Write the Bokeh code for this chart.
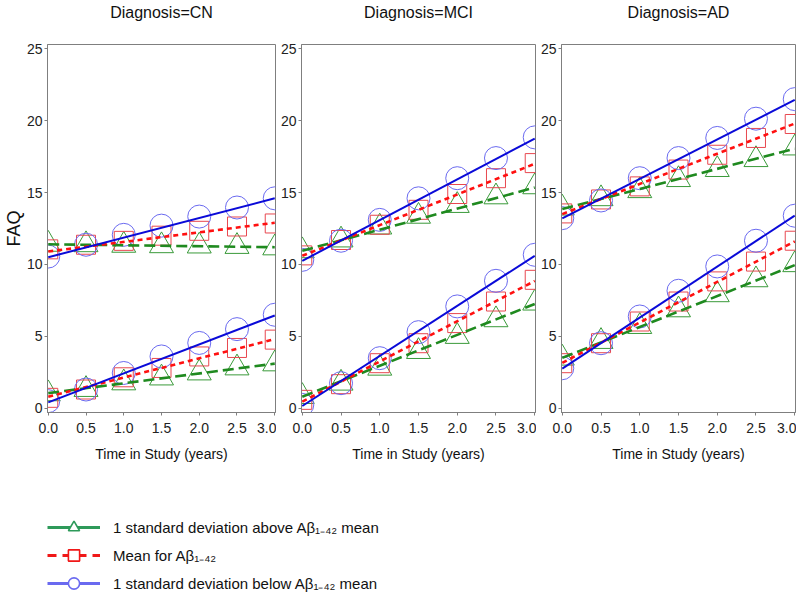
from bokeh.plotting import figure
from bokeh.layouts import column, row
from bokeh.models import (Range1d, FixedTicker, NumeralTickFormatter, Legend, LegendItem,
                          LinearAxis)
from bokeh.embed import file_html
from bokeh.resources import INLINE

# ---------------- data ----------------
times = [0.0, 0.5, 1.0, 1.5, 2.0, 2.5, 3.0]
fit_t = [0.0, 3.0]
x_ticks = [0.0, 0.5, 1.0, 1.5, 2.0, 2.5, 3.0]
y_ticks = [0, 5, 10, 15, 20, 25]
diagnoses = ["CN", "MCI", "AD"]
y_title = "FAQ"
x_title = "Time in Study (years)"
series_labels = [
    "1 standard deviation above A\u03b2\u2081\u208b\u2084\u2082 mean",
    "Mean for A\u03b2\u2081\u208b\u2084\u2082",
    "1 standard deviation below A\u03b2\u2081\u208b\u2084\u2082 mean",
]

# CN
cn_hi_above = [11.4, 11.37, 11.33, 11.3, 11.28, 11.25, 11.15]
cn_hi_mean = [11.05, 11.37, 11.64, 12.0, 12.34, 12.64, 12.85]
cn_hi_below = [10.55, 11.37, 12.06, 12.7, 13.33, 13.96, 14.6]
cn_lo_above = [1.0, 1.3, 1.76, 2.1, 2.45, 2.8, 3.08]
cn_lo_mean = [0.72, 1.3, 2.15, 2.8, 3.6, 4.19, 4.77]
cn_lo_below = [0.49, 1.3, 2.45, 3.6, 4.54, 5.5, 6.5]
cn_hi_fit_above = [11.4, 11.2]
cn_hi_fit_mean = [10.9, 12.9]
cn_hi_fit_below = [10.5, 14.6]
cn_lo_fit_above = [1.05, 3.1]
cn_lo_fit_mean = [0.8, 4.8]
cn_lo_fit_below = [0.4, 6.45]

# MCI
mci_hi_above = [10.95, 11.7, 12.6, 13.35, 14.1, 14.7, 15.4]
mci_hi_mean = [10.63, 11.7, 12.76, 13.8, 14.9, 16.0, 17.05]
mci_hi_below = [10.32, 11.65, 13.1, 14.6, 16.0, 17.4, 18.84]
mci_lo_above = [0.81, 1.74, 2.78, 3.94, 4.99, 6.15, 7.31]
mci_lo_mean = [0.58, 1.67, 3.13, 4.52, 5.92, 7.42, 8.93]
mci_lo_below = [0.23, 1.74, 3.48, 5.29, 7.08, 8.86, 10.67]
mci_hi_fit_above = [10.95, 15.35]
mci_hi_fit_mean = [10.6, 17.0]
mci_hi_fit_below = [10.25, 18.75]
mci_lo_fit_above = [0.8, 7.25]
mci_lo_fit_mean = [0.45, 8.85]
mci_lo_fit_below = [0.15, 10.6]

# AD
ad_hi_above = [13.92, 14.57, 15.13, 15.9, 16.6, 17.29, 18.1]
ad_hi_mean = [13.55, 14.52, 15.43, 16.6, 17.63, 18.8, 19.77]
ad_hi_below = [13.22, 14.45, 16.0, 17.4, 18.8, 20.14, 21.5]
ad_lo_above = [3.48, 4.64, 5.68, 6.84, 7.89, 8.93, 9.98]
ad_lo_mean = [3.13, 4.52, 6.03, 7.42, 8.82, 10.2, 11.65]
ad_lo_below = [2.78, 4.52, 6.38, 8.17, 9.86, 11.65, 13.39]
ad_hi_fit_above = [13.85, 18.05]
ad_hi_fit_mean = [13.5, 19.8]
ad_hi_fit_below = [13.2, 21.45]
ad_lo_fit_above = [3.5, 9.95]
ad_lo_fit_mean = [3.15, 11.6]
ad_lo_fit_below = [2.75, 13.4]

panel_data = {
    "CN": {
        "pts": [(cn_hi_above, cn_hi_mean, cn_hi_below), (cn_lo_above, cn_lo_mean, cn_lo_below)],
        "fit": [(cn_hi_fit_above, cn_hi_fit_mean, cn_hi_fit_below), (cn_lo_fit_above, cn_lo_fit_mean, cn_lo_fit_below)],
    },
    "MCI": {
        "pts": [(mci_hi_above, mci_hi_mean, mci_hi_below), (mci_lo_above, mci_lo_mean, mci_lo_below)],
        "fit": [(mci_hi_fit_above, mci_hi_fit_mean, mci_hi_fit_below), (mci_lo_fit_above, mci_lo_fit_mean, mci_lo_fit_below)],
    },
    "AD": {
        "pts": [(ad_hi_above, ad_hi_mean, ad_hi_below), (ad_lo_above, ad_lo_mean, ad_lo_below)],
        "fit": [(ad_hi_fit_above, ad_hi_fit_mean, ad_hi_fit_below), (ad_lo_fit_above, ad_lo_fit_mean, ad_lo_fit_below)],
    },
}

# ---------------- styles ----------------
FONT = "Liberation Sans"
marker_types = ["triangle", "square", "circle"]
marker_sizes = [24, 19, 23]
marker_colors = ["#3a9a3a", "#e8474f", "#6a6af0"]
line_colors = ["#1f8a1f", "#ff1010", "#0a0ad8"]
line_dashes = ["11 5", "5 4", "solid"]
line_widths = [2.6, 2.6, 2.0]

FRAME_W = 234
FRAME_H = 369
TOP = 43
BOTTOM = 58


def make_panel(diag, first):
    left = 41 if first else 25
    p = figure(
        width=left + FRAME_W + 1,
        height=TOP + FRAME_H + BOTTOM,
        x_range=Range1d(-0.01, 3.01),
        y_range=Range1d(-0.3, 25.3),
        output_backend="svg",
        toolbar_location=None,
        min_border_left=left,
        min_border_right=1,
        min_border_top=TOP,
        min_border_bottom=BOTTOM,
    )
    p.xgrid.visible = False
    p.ygrid.visible = False
    p.outline_line_color = "#7f7f7f"
    p.outline_line_width = 1
    p.background_fill_color = "white"
    p.border_fill_color = "white"

    # bottom (time) axis
    bx = p.below[0]
    bx.ticker = FixedTicker(ticks=x_ticks)
    bx.formatter = NumeralTickFormatter(format="0.0")
    ly = p.left[0]
    ly.ticker = FixedTicker(ticks=y_ticks)
    for ax in (bx, ly):
        ax.axis_line_color = "#7f7f7f"
        ax.major_tick_line_color = "#7f7f7f"
        ax.major_tick_in = 0
        ax.major_tick_out = 3
        ax.minor_tick_line_color = None
        ax.major_label_text_font = FONT
        ax.major_label_text_font_size = "14px"
        ax.major_label_text_color = "#222222"
    bx.major_label_standoff = 7
    ly.major_label_standoff = 2
    bx.axis_label = x_title
    bx.axis_label_text_font = FONT
    bx.axis_label_text_font_size = "14px"
    bx.axis_label_text_font_style = "normal"
    bx.axis_label_text_color = "#111111"
    bx.axis_label_standoff = 10
    if first:
        ly.axis_label = y_title
        ly.axis_label_text_font = FONT
        ly.axis_label_text_font_size = "18px"
        ly.axis_label_text_font_style = "normal"
        ly.axis_label_text_color = "#111111"
        ly.axis_label_standoff = 0

    # panel heading drawn as the label of a tick-less axis above the frame
    head = LinearAxis(ticker=FixedTicker(ticks=[]), axis_label="Diagnosis=" + diag,
                      axis_line_color=None, major_tick_line_color=None,
                      minor_tick_line_color=None, major_tick_out=0, minor_tick_out=0,
                      major_label_standoff=0,
                      axis_label_standoff=24, axis_label_text_font=FONT,
                      axis_label_text_font_size="16px", axis_label_text_font_style="normal",
                      axis_label_text_color="#111111")
    p.add_layout(head, "above")

    d = panel_data[diag]
    # markers first
    for group in d["pts"]:
        for k, vals in enumerate(group):
            p.scatter(times, vals, marker=marker_types[k], size=marker_sizes[k],
                      line_color=marker_colors[k], line_width=1, fill_color=None)
    # fitted lines on top
    for group in d["fit"]:
        for k, vals in enumerate(group):
            p.line(fit_t, vals, line_color=line_colors[k], line_width=line_widths[k],
                   line_dash=line_dashes[k])
    return p


panels = [make_panel(dg, i == 0) for i, dg in enumerate(diagnoses)]

# ---------------- legend ----------------
leg_line_colors = ["#2e9a5a", "#f01818", "#6a6af0"]
leg_dashes = ["solid", "9 6", "solid"]
pl = figure(width=795, height=127, x_range=Range1d(0, 1), y_range=Range1d(0, 1),
            output_backend="svg", toolbar_location=None,
            min_border=0, min_border_left=0, min_border_right=0,
            min_border_top=0, min_border_bottom=0)
pl.axis.visible = False
pl.xgrid.visible = False
pl.ygrid.visible = False
pl.outline_line_color = None
# legend-only renderers: their points lie outside the visible range
hidden_x = [-5.0, -4.0]
hidden_y = [-5.0, -4.0]
items = []
for k in range(3):
    r1 = pl.line(hidden_x, hidden_y, line_color=leg_line_colors[k], line_width=3,
                 line_dash=leg_dashes[k])
    r2 = pl.scatter(hidden_x[:1], hidden_y[:1], marker=marker_types[k], size=12,
                    line_color=leg_line_colors[k], line_width=1.6, fill_color="white")
    items.append(LegendItem(label=series_labels[k], renderers=[r1, r2]))
legend = Legend(items=items, location=(47, 0), orientation="vertical")
legend.border_line_color = None
legend.background_fill_alpha = 0
legend.padding = 0
legend.margin = 0
legend.spacing = 0
legend.glyph_width = 53
legend.glyph_height = 28
legend.label_height = 28
legend.label_standoff = 13
legend.label_text_font = FONT
legend.label_text_font_size = "15px"
legend.label_text_color = "#111111"
pl.add_layout(legend, "center")

layout = column(row(*panels), pl)
open("out.html", "w").write(file_html(layout, INLINE))
